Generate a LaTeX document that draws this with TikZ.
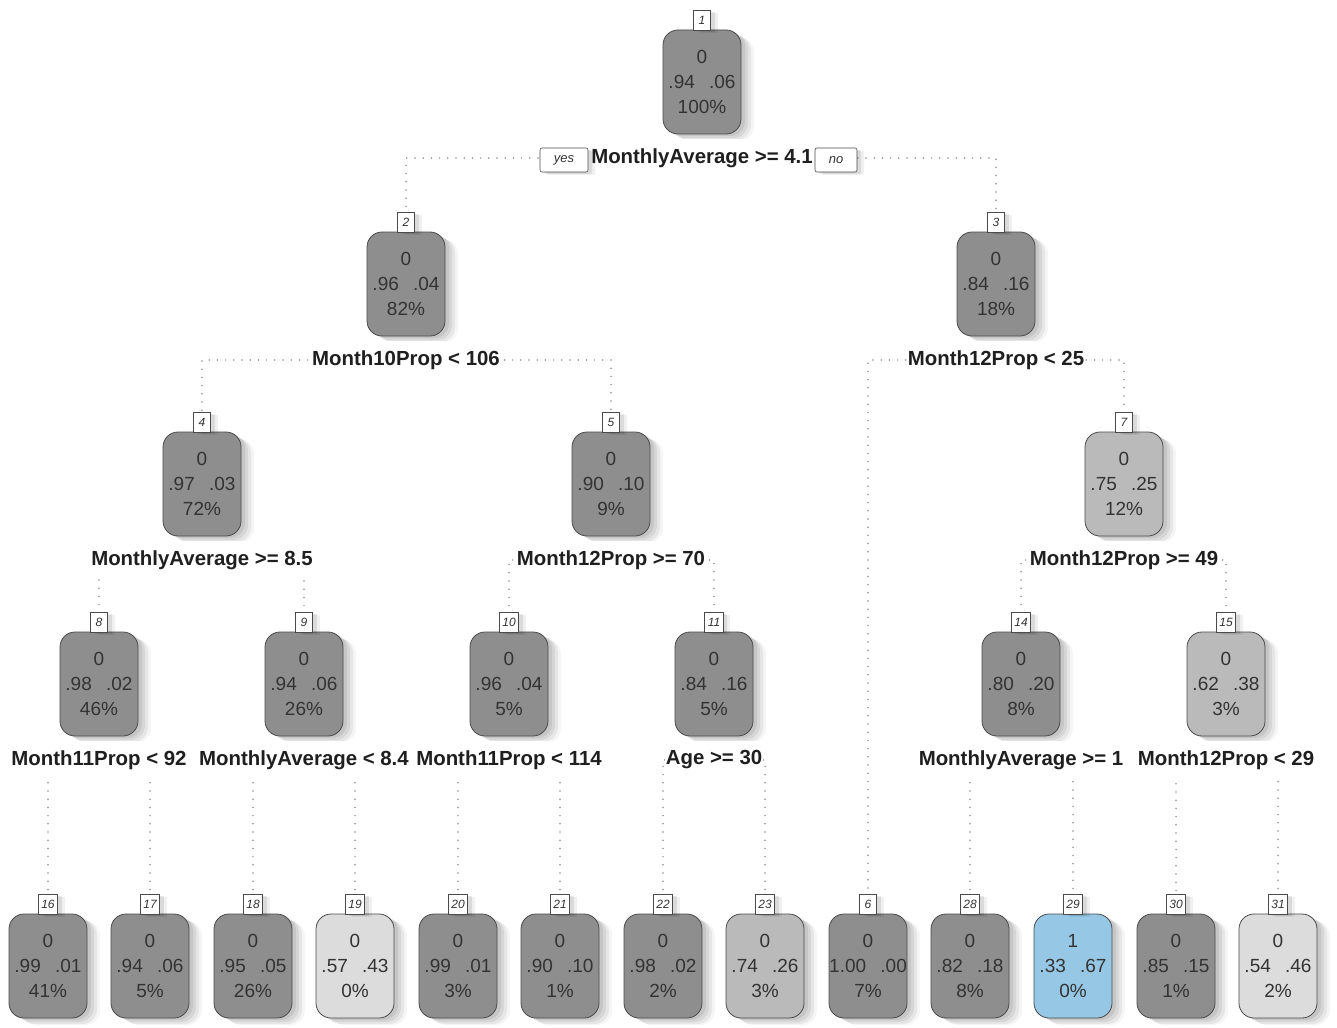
\documentclass[tikz,border=0pt]{standalone}
\usepackage{fontspec}
\setmainfont{Liberation Sans}
\usetikzlibrary{shadows,backgrounds}
\definecolor{dk}{HTML}{8E8E8E}
\definecolor{md}{HTML}{BABABA}
\definecolor{lt}{HTML}{DCDCDC}
\definecolor{bl}{HTML}{96C8E6}
\definecolor{edgec}{HTML}{4A4A4A}
\definecolor{txtc}{HTML}{333333}
\definecolor{dotc}{HTML}{8E8E8E}
\tikzset{
  bigshadow/.style={
    drop shadow={shadow xshift=4pt,shadow yshift=-2pt,fill=black,opacity=0.07},
    drop shadow={shadow xshift=7pt,shadow yshift=-4pt,fill=black,opacity=0.07},
    drop shadow={shadow xshift=10pt,shadow yshift=-6pt,fill=black,opacity=0.06},
    drop shadow={shadow xshift=13pt,shadow yshift=-7pt,fill=black,opacity=0.04}},
  smallshadow/.style={
    drop shadow={shadow xshift=4pt,shadow yshift=-2pt,fill=black,opacity=0.09},
    drop shadow={shadow xshift=7pt,shadow yshift=-3pt,fill=black,opacity=0.06}},
  tn/.style={bigshadow, draw=edgec, line width=0.8pt, rounded corners=15pt,
    minimum width=78pt, minimum height=104pt, inner sep=0pt, align=center,
    text=txtc, font=\fontsize{19}{25}\selectfont},
  numbox/.style={smallshadow, draw=edgec, fill=white, line width=0.6pt,
    minimum width=17pt, minimum height=20pt, inner xsep=3pt, inner ysep=0pt,
    text=txtc, font=\fontsize{12}{12}\selectfont\itshape},
  lbl/.style={fill=white, inner xsep=1pt, inner ysep=0pt, minimum height=38pt,
    text=black!88, font=\fontsize{20.4}{22}\selectfont\bfseries},
  yn/.style={smallshadow, draw=edgec, fill=white, rounded corners=2pt, line width=0.6pt,
    minimum height=24pt, inner ysep=0pt, text=txtc, font=\fontsize{13}{13}\selectfont\itshape},
  conn/.style={draw=dotc, line width=1.7pt, dash pattern=on 0pt off 8.2pt, line cap=round}
}
\newcommand\tnode[8]{%
  \node[tn, fill=#4] (n#1) at (#2,#3) {#5\\#6\hspace{0.75em}#7\\#8};
  \node[numbox, anchor=south] (b#1) at ([yshift=-1pt]n#1.north) {#1};
}
\begin{document}
\begin{tikzpicture}[x=1pt,y=-1pt]
\useasboundingbox (0,0) rectangle (1337,1027);
% row 0
\tnode{1}{702}{82}{dk}{0}{.94}{.06}{100\%}
% row 1
\tnode{2}{406}{284}{dk}{0}{.96}{.04}{82\%}
\tnode{3}{996}{284}{dk}{0}{.84}{.16}{18\%}
% row 2
\tnode{4}{202}{484}{dk}{0}{.97}{.03}{72\%}
\tnode{5}{611}{484}{dk}{0}{.90}{.10}{9\%}
\tnode{7}{1124}{484}{md}{0}{.75}{.25}{12\%}
% row 3
\tnode{8}{99}{684}{dk}{0}{.98}{.02}{46\%}
\tnode{9}{304}{684}{dk}{0}{.94}{.06}{26\%}
\tnode{10}{509}{684}{dk}{0}{.96}{.04}{5\%}
\tnode{11}{714}{684}{dk}{0}{.84}{.16}{5\%}
\tnode{14}{1021}{684}{dk}{0}{.80}{.20}{8\%}
\tnode{15}{1226}{684}{md}{0}{.62}{.38}{3\%}
% row 4 (leaves)
\tnode{16}{48}{966}{dk}{0}{.99}{.01}{41\%}
\tnode{17}{150}{966}{dk}{0}{.94}{.06}{5\%}
\tnode{18}{253}{966}{dk}{0}{.95}{.05}{26\%}
\tnode{19}{355}{966}{lt}{0}{.57}{.43}{0\%}
\tnode{20}{458}{966}{dk}{0}{.99}{.01}{3\%}
\tnode{21}{560}{966}{dk}{0}{.90}{.10}{1\%}
\tnode{22}{663}{966}{dk}{0}{.98}{.02}{2\%}
\tnode{23}{765}{966}{md}{0}{.74}{.26}{3\%}
\tnode{6}{868}{966}{dk}{0}{1.00}{.00}{7\%}
\tnode{28}{970}{966}{dk}{0}{.82}{.18}{8\%}
\tnode{29}{1073}{966}{bl}{1}{.33}{.67}{0\%}
\tnode{30}{1176}{966}{dk}{0}{.85}{.15}{1\%}
\tnode{31}{1278}{966}{lt}{0}{.54}{.46}{2\%}
% split labels
\node[lbl] (s1) at (702,158) {MonthlyAverage >= 4.1};
\node[yn, minimum width=48pt] (yes) at (564,160) {yes};
\node[yn, minimum width=42pt] (no) at (836,160) {no};
\node[lbl] (s2) at (406,360) {Month10Prop < 106};
\node[lbl] (s3) at (996,360) {Month12Prop < 25};
\node[lbl] (s4) at (202,560) {MonthlyAverage >= 8.5};
\node[lbl] (s5) at (611,560) {Month12Prop >= 70};
\node[lbl] (s7) at (1124,560) {Month12Prop >= 49};
\node[lbl] (s8) at (99,760) {Month11Prop < 92};
\node[lbl] (s9) at (304,760) {MonthlyAverage < 8.4};
\node[lbl] (s10) at (509,760) {Month11Prop < 114};
\node[lbl] (s11) at (714,760) {Age >= 30};
\node[lbl] (s14) at (1021,760) {MonthlyAverage >= 1};
\node[lbl] (s15) at (1226,760) {Month12Prop < 29};
% connectors
\begin{pgfonlayer}{background}
\fill[white] (0,0) rectangle (1337,1027);
\foreach \s/\a/\b in {1/2/3, 2/4/5, 3/6/7, 4/8/9, 5/10/11, 7/14/15, 8/16/17,
  9/18/19, 10/20/21, 11/22/23, 14/28/29, 15/30/31}{
  \draw[conn] (s\s.center) -| (b\a.north);
  \draw[conn] (s\s.center) -| (b\b.north);
}
\end{pgfonlayer}
\end{tikzpicture}
\end{document}
